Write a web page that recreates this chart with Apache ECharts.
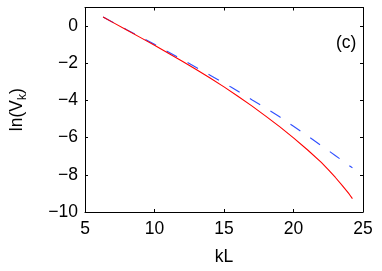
<!DOCTYPE html>
<html>
<head>
<meta charset="utf-8">
<script src="https://cdn.jsdelivr.net/npm/echarts@6/dist/echarts.min.js"></script>
<style>html,body{margin:0;padding:0;background:#fff}#c{width:382px;height:271px}</style>
</head>
<body>
<div id="c"></div>
<script>
var redK = [6.3, 7, 8, 9, 10, 11, 12, 13, 14, 15, 16, 17, 18, 19, 20, 21, 22, 22.5, 23, 23.5, 24, 24.24];
var redV = [0.49, 0.20, -0.21, -0.62, -1.03, -1.46, -1.89, -2.33, -2.79, -3.27, -3.77, -4.29, -4.84, -5.41, -6.01, -6.65, -7.33, -7.72, -8.13, -8.57, -9.03, -9.28];
var blueK = [6.3, 8, 10, 12, 14, 15.53, 17, 18, 19, 20, 21, 22, 23, 24, 24.24];
var blueV = [0.49, -0.19, -0.98, -1.80, -2.64, -3.29, -3.96, -4.41, -4.88, -5.39, -5.90, -6.43, -6.96, -7.50, -7.62];
var xTicks = [5, 10, 15, 20, 25];
var yTicks = [-10, -8, -6, -4, -2, 0];

function pairs(a, b) { return a.map(function (v, i) { return [v, b[i]]; }); }
var F = 'Liberation Sans, Arial, sans-serif';
var fmt = function (v) { return String(v).replace('-', '\u2212'); };
var axisCommon = {
  axisLine: { show: true, onZero: false, lineStyle: { color: '#000', width: 1 } },
  axisTick: { show: true, inside: true, length: 3, lineStyle: { color: '#000' } },
  splitLine: { show: false }
};
var chart = echarts.init(document.getElementById('c'), null, { renderer: 'canvas' });
chart.setOption({
  animation: false,
  backgroundColor: '#fff',
  grid: { left: 82, right: 19, top: 7.5, bottom: 52 },
  xAxis: [
    Object.assign({ type: 'value', min: 5, max: 25, interval: 5, position: 'bottom',
      name: 'kL', nameLocation: 'middle', nameGap: 36,
      nameTextStyle: { fontFamily: F, fontSize: 17.5, color: '#000' },
      axisLabel: { fontFamily: F, fontSize: 17.5, color: '#000', margin: 8, formatter: fmt } }, axisCommon),
    Object.assign({ type: 'value', min: 5, max: 25, interval: 5, position: 'top',
      axisLabel: { show: false } }, axisCommon)
  ],
  yAxis: [
    Object.assign({ type: 'value', min: -10, max: 1, interval: 2, position: 'left',
      name: 'ln(V{s|k})', nameLocation: 'middle', nameGap: 56, nameRotate: 90,
      nameTextStyle: { fontFamily: F, fontSize: 17.5, color: '#000',
        rich: { s: { fontFamily: F, fontSize: 12, color: '#000', verticalAlign: 'bottom', padding: [12, 0, 0, 0] } } },
      axisLabel: { fontFamily: F, fontSize: 17.5, color: '#000', margin: 7,
        formatter: function (v) { return v > 0 ? '' : fmt(v); } } }, axisCommon),
    Object.assign({ type: 'value', min: -10, max: 1, interval: 2, position: 'right',
      axisLabel: { show: false } }, axisCommon)
  ],
  graphic: [{
    type: 'text', left: 336, top: 34,
    style: { text: '(c)', font: '17.5px ' + F, fill: '#000' }
  }],
  series: [
    { type: 'line', data: pairs(blueK, blueV), showSymbol: false, smooth: false,
      lineStyle: { color: '#3050ff', width: 1.1, type: [12, 12] }, z: 2 },
    { type: 'line', data: pairs(redK, redV), showSymbol: false, smooth: false,
      lineStyle: { color: '#ff0000', width: 1.1 }, z: 3 }
  ]
});
</script>
</body>
</html>
